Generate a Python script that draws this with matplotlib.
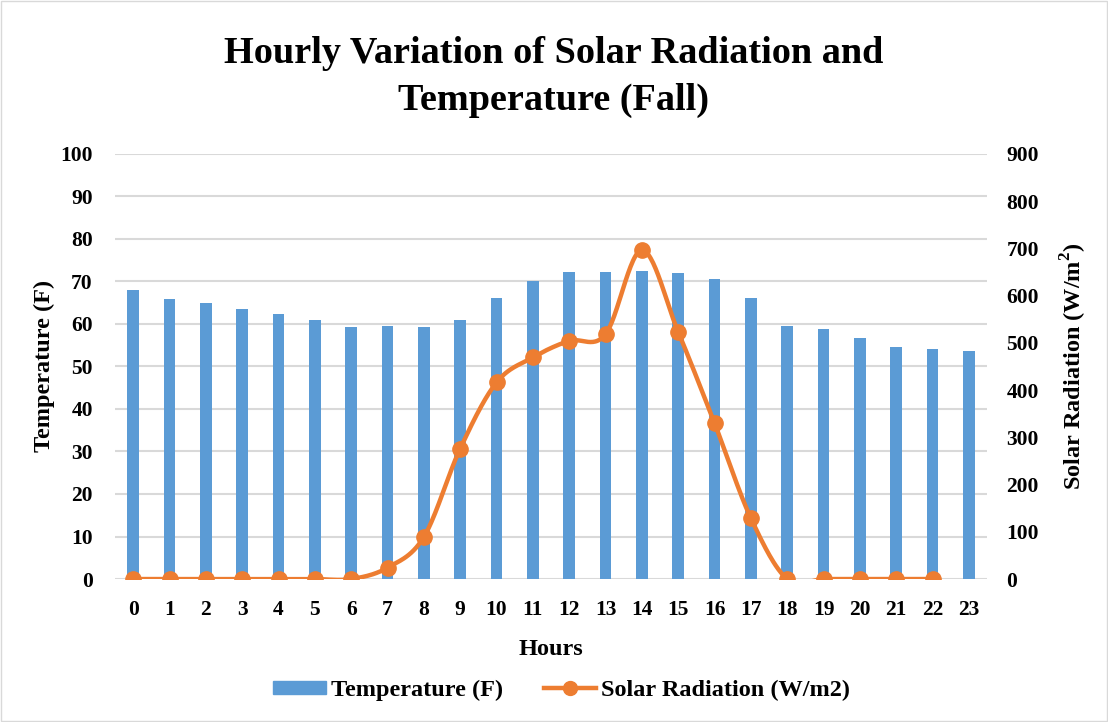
import numpy as np
import matplotlib
matplotlib.use('Agg')
import matplotlib.pyplot as plt
from matplotlib.lines import Line2D
from matplotlib.patches import Patch, Rectangle

plt.rcParams['font.family'] = ['Liberation Serif', 'DejaVu Serif']
plt.rcParams['font.weight'] = 'bold'
plt.rcParams['mathtext.fontset'] = 'custom'
plt.rcParams['mathtext.rm'] = 'Liberation Serif:bold'
plt.rcParams['mathtext.bf'] = 'Liberation Serif:bold'

hours = list(range(24))
temp = [68.0, 65.8, 64.9, 63.6, 62.3, 61.0, 59.2, 59.6, 59.2, 61.0, 66.0, 70.0,
        72.3, 72.2, 72.5, 72.0, 70.5, 66.1, 59.6, 58.7, 56.7, 54.6, 54.2, 53.7]
solar = [0, 0, 0, 0, 0, 0, 0, 24, 89, 276, 416, 469,
         504, 518, 696, 523, 330, 129, 0, 0, 0, 0, 0]  # no value for hour 23

bar_c = '#5B9BD5'
line_c = '#ED7D31'


def smooth(xs, ys, n=30):
    # excel-like smoothed line (catmull-rom bezier)
    xs = np.asarray(xs, float)
    ys = np.asarray(ys, float)
    px, py = [], []
    m = len(xs)
    for i in range(m - 1):
        x0, y0 = (xs[i - 1], ys[i - 1]) if i > 0 else (xs[i], ys[i])
        x1, y1 = xs[i], ys[i]
        x2, y2 = xs[i + 1], ys[i + 1]
        x3, y3 = (xs[i + 2], ys[i + 2]) if i + 2 < m else (x2, y2)
        c1x, c1y = x1 + (x2 - x0) / 6, y1 + (y2 - y0) / 6
        c2x, c2y = x2 - (x3 - x1) / 6, y2 - (y3 - y1) / 6
        t = np.linspace(0, 1, n)
        px.extend((1 - t) ** 3 * x1 + 3 * (1 - t) ** 2 * t * c1x + 3 * (1 - t) * t ** 2 * c2x + t ** 3 * x2)
        py.extend((1 - t) ** 3 * y1 + 3 * (1 - t) ** 2 * t * c1y + 3 * (1 - t) * t ** 2 * c2y + t ** 3 * y2)
    return px, py


fig = plt.figure(figsize=(11.08, 7.22), dpi=100)
ax = fig.add_axes([0.1038, 0.198, 0.787, 0.589])
ax2 = ax.twinx()

ax.bar(hours, temp, width=0.32, color=bar_c, zorder=2)
ax.set_xlim(-0.5, 23.5)
ax.set_ylim(0, 100)
ax.set_yticks(range(0, 101, 10))
ax.set_xticks(hours)
ax.yaxis.grid(True, color='#D9D9D9', lw=1.5, zorder=0)
ax.set_axisbelow(True)

sx, sy = smooth(hours[:len(solar)], solar)
ax2.plot(sx, sy, color=line_c, lw=3.2, solid_capstyle='round')
ax2.plot(hours[:len(solar)], solar, 'o', color=line_c, ms=11)
ax2.set_ylim(0, 900)
ax2.set_yticks(range(0, 901, 100))

for a in (ax, ax2):
    for s in a.spines.values():
        s.set_visible(False)
    a.tick_params(length=0, labelsize=15.5)
ax.tick_params(axis='y', pad=16)
ax.tick_params(axis='x', pad=15)
ax2.tick_params(axis='y', pad=14)

ax.set_xlabel('Hours', fontsize=17.5, fontweight='bold', labelpad=14)
ax.set_ylabel('Temperature (F)', fontsize=17.5, fontweight='bold', labelpad=4)
ax2.set_ylabel('Solar Radiation (W/m$^{2}$)', fontsize=17.5, fontweight='bold', labelpad=14)

fig.suptitle('Hourly Variation of Solar Radiation and\nTemperature (Fall)',
             fontsize=27.5, fontweight='bold', y=0.95, linespacing=1.42)

handles = [Patch(color=bar_c, label='Temperature (F)'),
           Line2D([], [], color=line_c, lw=3.2, marker='o', ms=10, label='Solar Radiation (W/m2)')]
fig.legend(handles=handles, loc='center', bbox_to_anchor=(0.507, 0.044), ncol=2, frameon=False,
           fontsize=17.5, handlelength=2.15, handleheight=0.45, columnspacing=1.7, handletextpad=0.2)

fig.add_artist(Rectangle((0.001, 0.001), 0.998, 0.998, transform=fig.transFigure,
                         fill=False, ec='#D9D9D9', lw=1))

fig.savefig('out.png', dpi=100)
